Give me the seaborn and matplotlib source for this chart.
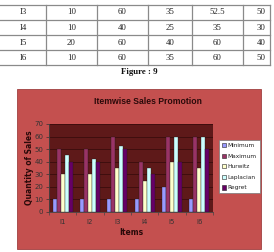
import numpy as np
import pandas as pd
import matplotlib
matplotlib.use("Agg")
import matplotlib.pyplot as plt
from matplotlib.patches import Rectangle
from matplotlib.lines import Line2D
import seaborn as sns

# ---- data ----
items = ["I1", "I2", "I3", "I4", "I5", "I6"]
minimum = [10, 10, 10, 10, 20, 10]
maximum = [50, 50, 60, 40, 60, 60]
hurwitz = [30, 30, 35, 25, 40, 35]
laplacian = [45, 42.5, 52.5, 35, 60, 60]
regret = [40, 40, 50, 30, 40, 50]
series_names = ["Minimum", "Maximum", "Hurwitz", "Laplacian", "Regret"]
colors = ["#9999FF", "#993366", "#FFFFCC", "#CCFFFF", "#660066"]
table_rows = ["I3", "I4", "I5", "I6"]

series = [minimum, maximum, hurwitz, laplacian, regret]
df = pd.DataFrame({
    "Items": np.repeat([items], len(series_names), axis=0).ravel(),
    "Series": np.repeat(series_names, len(items)),
    "Value": np.concatenate(series),
})

W, H = 274, 252
fig = plt.figure(figsize=(W / 100, H / 100), dpi=100)
fig.patch.set_facecolor("white")

def fx(px):
    return px / W

def fy(py):
    return 1 - py / H

# ---- table at top ----
tcol = "#8a8a8a"
hlines = [4.5, 20, 35, 50, 65]
vlines = [46, 97, 148, 192, 243, 270]
for y in hlines:
    fig.add_artist(Line2D([0, fx(270)], [fy(y), fy(y)], color=tcol, lw=0.9))
for x in vlines:
    fig.add_artist(Line2D([fx(x), fx(x)], [fy(4.5), fy(65)], color=tcol, lw=0.9))
col_centers = [23, 71.5, 122.5, 170, 217.5, 261]
for r, name in enumerate(table_rows):
    i = items.index(name)
    vals = [name] + [f"{s[i]:g}" for s in series]
    yc = (hlines[r] + hlines[r + 1]) / 2
    for c, v in enumerate(vals):
        fig.text(fx(col_centers[c]), fy(yc), v, ha="center", va="center",
                 fontsize=6.3, family="Liberation Serif", color="#222222")
fig.text(fx(139), fy(72), "Figure : 9", ha="center", va="center",
         fontsize=6.3, family="Liberation Serif", weight="bold", color="#111111")

# ---- chart area ----
chart_bg = "#C4504F"
fig.add_artist(Rectangle((fx(17), fy(249)), fx(261) - fx(17), fy(89) - fy(249),
                         transform=fig.transFigure, facecolor=chart_bg,
                         edgecolor="#a04040", lw=0.6, zorder=0))

ax = fig.add_axes([fx(49), fy(212), fx(213) - fx(49), fy(124) - fy(212)])
ax.set_facecolor("#5E1919")
sns.barplot(data=df, x="Items", y="Value", hue="Series", palette=colors,
            width=0.74, ax=ax, edgecolor="#1a1a1a", linewidth=0.25,
            saturation=1, legend=False, zorder=3)
ax.set_ylim(0, 70)
ax.set_yticks(range(0, 71, 10))
ax.set_xlim(-0.5, 5.5)
ax.yaxis.grid(True, color="#3a0d0d", lw=0.6, zorder=0)
ax.set_axisbelow(True)
for s in ["top", "right"]:
    ax.spines[s].set_visible(False)
for s in ["left", "bottom"]:
    ax.spines[s].set_color("#444444")
    ax.spines[s].set_linewidth(0.6)
ax.tick_params(axis="y", labelsize=5, colors="#333333", length=2, width=0.5, pad=2)
ax.tick_params(axis="x", labelsize=5, colors="#333333", length=0, pad=5)
ax.set_xticks(np.arange(-0.5, 6, 1), minor=True)
ax.tick_params(axis="x", which="minor", length=2, width=0.5, color="#444444")
ax.set_xlabel("Items", fontsize=5.5, weight="bold", color="#2a0a0a", labelpad=2)
ax.set_ylabel("Quantity of Sales", fontsize=5.5, weight="bold", color="#2a0a0a", labelpad=0)

fig.text(fx(148), fy(101), "Itemwise Sales Promotion", ha="center", va="center",
         fontsize=6.2, weight="bold", color="#2a0a0a", family="Liberation Sans")

handles = [Rectangle((0, 0), 1, 1, facecolor=c, edgecolor="#222222", lw=0.4) for c in colors]
leg = fig.legend(handles, series_names, loc="upper left",
                 bbox_to_anchor=(fx(219), fy(140)), bbox_transform=fig.transFigure,
                 fontsize=4.2, frameon=True, fancybox=False, framealpha=1,
                 handlelength=0.7, handleheight=0.7, handletextpad=0.3,
                 labelspacing=0.95, borderpad=0.5, borderaxespad=0)
leg.get_frame().set_facecolor("white")
leg.get_frame().set_edgecolor("#777777")
leg.get_frame().set_linewidth(0.5)
for t in leg.get_texts():
    t.set_color("#222222")

fig.savefig("out.png", dpi=100, facecolor="white")
